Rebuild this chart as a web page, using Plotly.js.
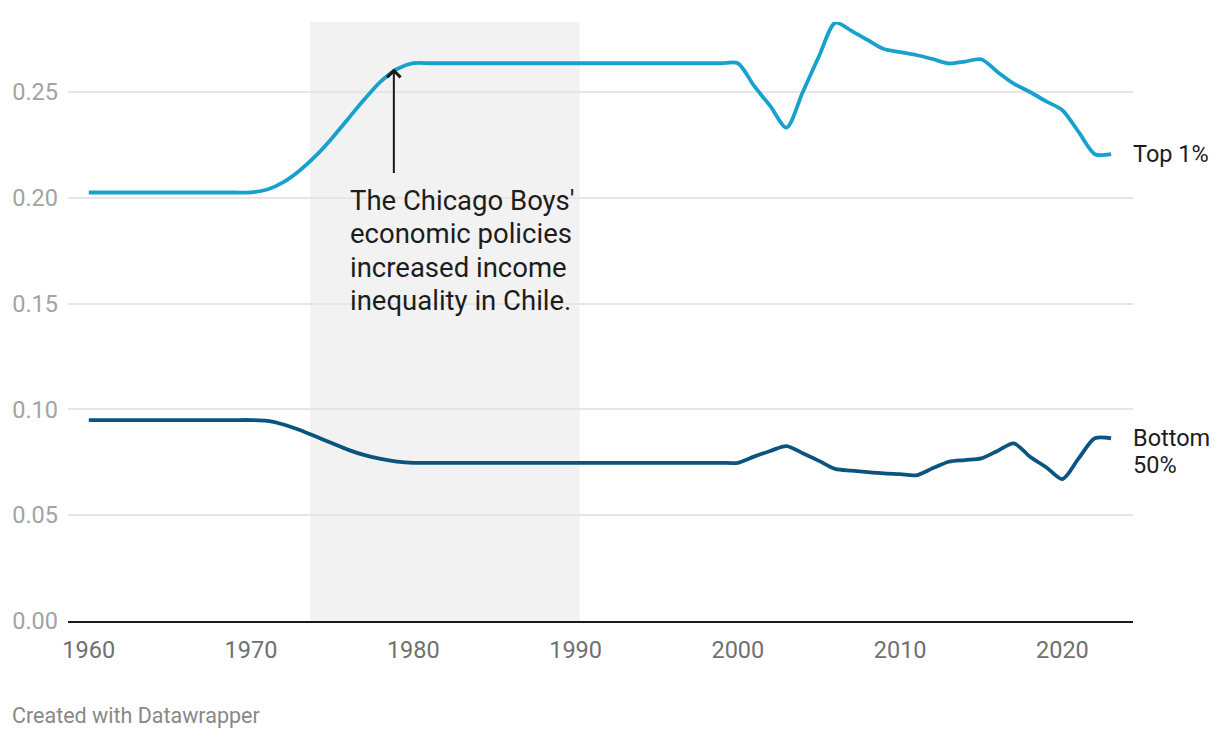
<!DOCTYPE html>
<html>
<head>
<meta charset="utf-8">
<script src="https://cdn.plot.ly/plotly-3.0.1.min.js"></script>
<style>
  html, body { margin: 0; padding: 0; background: #fff; }
  #chart { width: 1220px; height: 738px; }
</style>
</head>
<body>
<div id="chart"></div>
<script>
// ---- Data ----
const years = [
  1960,1961,1962,1963,1964,1965,1966,1967,1968,1969,
  1970,1971,1972,1973,1974,1975,1976,1977,1978,1979,
  1980,1981,1982,1983,1984,1985,1986,1987,1988,1989,
  1990,1991,1992,1993,1994,1995,1996,1997,1998,1999,
  2000,2001,2002,2003,2004,2005,2006,2007,2008,2009,
  2010,2011,2012,2013,2014,2015,2016,2017,2018,2019,
  2020,2021,2022,2023
];
const top1 = [
  0.2026,0.2026,0.2026,0.2026,0.2026,0.2026,0.2026,0.2026,0.2026,0.2026,
  0.2026,0.2040,0.2075,0.2130,0.2200,0.2284,0.2376,0.2468,0.2551,0.2610,
  0.2637,0.2637,0.2637,0.2637,0.2637,0.2637,0.2637,0.2637,0.2637,0.2637,
  0.2637,0.2637,0.2637,0.2637,0.2637,0.2637,0.2637,0.2637,0.2637,0.2637,
  0.2637,0.2530,0.2434,0.2333,0.2501,0.2670,0.2828,0.2790,0.2747,0.2704,
  0.2690,0.2676,0.2657,0.2636,0.2645,0.2656,0.2596,0.2541,0.2501,0.2457,
  0.2415,0.2312,0.2207,0.2207
];
const bottom50 = [
  0.0950,0.0950,0.0950,0.0950,0.0950,0.0950,0.0950,0.0950,0.0950,0.0950,
  0.0950,0.0946,0.0929,0.0903,0.0872,0.0840,0.0809,0.0784,0.0766,0.0754,
  0.0748,0.0748,0.0748,0.0748,0.0748,0.0748,0.0748,0.0748,0.0748,0.0748,
  0.0748,0.0748,0.0748,0.0748,0.0748,0.0748,0.0748,0.0748,0.0748,0.0748,
  0.0748,0.0777,0.0804,0.0827,0.0793,0.0757,0.0719,0.0711,0.0704,0.0698,
  0.0694,0.0689,0.0722,0.0753,0.0761,0.0769,0.0804,0.0840,0.0777,0.0727,
  0.0671,0.0769,0.0864,0.0864
];
const topLabelLines = ["Top 1%"];
const bottomLabelLines = ["Bottom", "50%"];
const yTicks = [0, 0.05, 0.10, 0.15, 0.20, 0.25];
const xTicks = [1960, 1970, 1980, 1990, 2000, 2010, 2020];
const shadeStart = 1973.65, shadeEnd = 1990.25;   // Chicago Boys period
const arrowYear = 1978.8, arrowValue = 0.2612;
const noteLines = ["The Chicago Boys'", "economic policies", "increased income", "inequality in Chile."];
const noteX = 1976.0, noteY = 0.1989;
const creditText = "Created with Datawrapper";

const FONT = "Roboto, 'Noto Sans', Arial, sans-serif";
const lastIdx = years.length - 1;

const traces = [
  {
    x: years, y: top1, type: "scatter", mode: "lines", name: "Top 1%",
    line: { color: "#18a1cd", width: 3.8, shape: "spline", smoothing: 0.8 },
    hoverinfo: "x+y"
  },
  {
    x: years, y: bottom50, type: "scatter", mode: "lines", name: "Bottom 50%",
    line: { color: "#09557f", width: 3.8, shape: "spline", smoothing: 0.8 },
    hoverinfo: "x+y"
  }
];

const annotations = [
  {
    xref: "x", yref: "y", x: arrowYear, y: arrowValue,
    ax: 0, ay: 106, text: "", showarrow: true,
    arrowhead: 4, arrowsize: 1.3, arrowwidth: 2, arrowcolor: "#1a1a1a", standoff: 0
  }
];
noteLines.forEach((t, i) => annotations.push({
  xref: "x", yref: "y", x: noteX, y: noteY, yshift: -33.5 * i,
  xanchor: "left", yanchor: "middle", align: "left",
  text: t, showarrow: false,
  font: { family: FONT, size: 27.5, color: "#1d1d1d" }
}));
topLabelLines.forEach((t, i) => annotations.push({
  xref: "x", yref: "y", x: years[lastIdx], y: top1[lastIdx],
  xanchor: "left", yanchor: "middle", align: "left", xshift: 20, yshift: -27 * i,
  text: t, showarrow: false,
  font: { family: FONT, size: 23.5, color: "#1d1d1d" }
}));
bottomLabelLines.forEach((t, i) => annotations.push({
  xref: "x", yref: "y", x: years[lastIdx], y: bottom50[lastIdx],
  xanchor: "left", yanchor: "middle", align: "left", xshift: 20, yshift: -27 * i,
  text: t, showarrow: false,
  font: { family: FONT, size: 23.5, color: "#1d1d1d" }
}));
annotations.push({
  xref: "paper", yref: "paper", x: -0.0545, y: -0.157,
  xanchor: "left", yanchor: "middle", align: "left",
  text: creditText, showarrow: false,
  font: { family: FONT, size: 21.5, color: "#888888" }
});

const layout = {
  width: 1220, height: 738,
  margin: { l: 68, r: 87, t: 22, b: 117, pad: 0 },
  paper_bgcolor: "#ffffff",
  plot_bgcolor: "rgba(0,0,0,0)",
  showlegend: false,
  font: { family: FONT, color: "#222" },
  xaxis: {
    range: [1958.72, 2024.35],
    tickvals: xTicks,
    ticktext: xTicks.map(String),
    showgrid: false, zeroline: false,
    showline: true, linecolor: "#1a1a1a", linewidth: 2,
    ticks: "", ticklabelstandoff: 7,
    tickfont: { family: FONT, size: 23.5, color: "#707070" },
    fixedrange: true
  },
  yaxis: {
    range: [0, 0.2832],
    tickvals: yTicks,
    ticktext: yTicks.map(v => v.toFixed(2)),
    showgrid: true, gridcolor: "#e6e6e6", gridwidth: 2,
    zeroline: false, showline: false,
    ticks: "", ticklabelstandoff: 9,
    tickfont: { family: FONT, size: 23.5, color: "#a3a3a3" },
    fixedrange: true
  },
  shapes: [
    {
      type: "rect", xref: "x", yref: "paper",
      x0: shadeStart, x1: shadeEnd, y0: 0, y1: 1,
      fillcolor: "#f2f2f2", line: { width: 0 }, layer: "below"
    }
  ],
  annotations: annotations
};

Plotly.newPlot("chart", traces, layout, { displayModeBar: false, staticPlot: true });
</script>
</body>
</html>
